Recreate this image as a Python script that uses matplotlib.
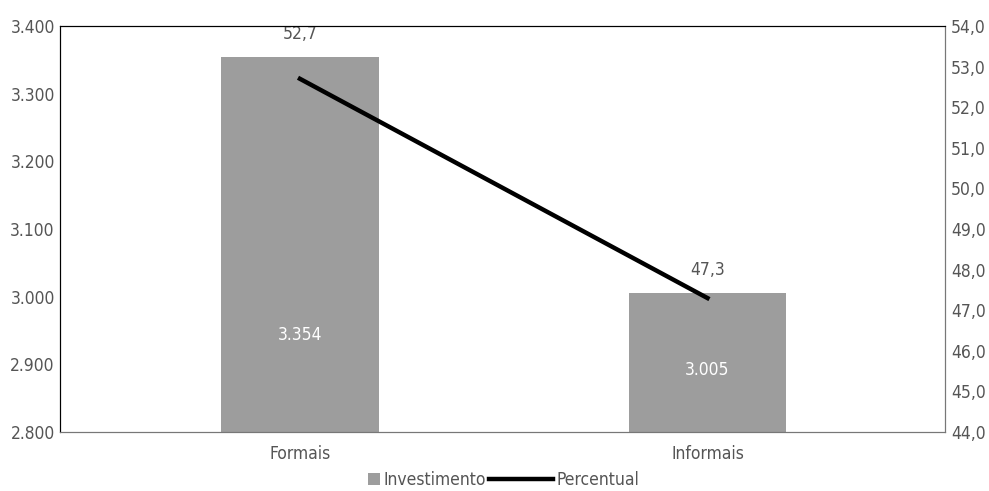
import matplotlib.pyplot as plt
from matplotlib.ticker import FuncFormatter
from matplotlib.patches import Rectangle
from matplotlib.legend_handler import HandlerPatch

categorias = ["Formais", "Informais"]
investimento = [3354, 3005]
percentual = [52.7, 47.3]

plt.rcParams["font.family"] = ["DejaVu Sans"]
plt.rcParams["font.stretch"] = "condensed"


def quadrado(legend, orig_handle, xdescent, ydescent, width, height, fontsize):
    # marcador quadrado encostado no texto
    sz = height * 0.95
    return Rectangle((-xdescent + width - sz, -ydescent + (height - sz) / 2), sz, sz)


fig, ax = plt.subplots(figsize=(9.89, 4.91), dpi=100)
fig.subplots_adjust(left=0.061, right=0.956, top=0.947, bottom=0.12)

x = list(range(len(categorias)))
bars = ax.bar(x, investimento, width=0.387, color="#9d9d9d", label="Investimento", zorder=2)
ax.set_ylim(2800, 3400)
ax.set_xlim(-0.588, 1.584)
ax.set_yticks(range(2800, 3401, 100))
ax.yaxis.set_major_formatter(FuncFormatter(lambda v, p: f"{int(v):,}".replace(",", ".")))
ax.set_xticks(x)
ax.set_xticklabels(categorias)

# valores dentro das barras
for xi, v, ypos in zip(x, investimento, [2943, 2892]):
    ax.text(xi, ypos, f"{v:,}".replace(",", "."), ha="center", va="center",
            color="white", fontsize=12.5)

ax2 = ax.twinx()
ln, = ax2.plot(x, percentual, color="black", linewidth=3.2, label="Percentual", zorder=3)
ax2.set_ylim(44, 54)
ax2.set_yticks(range(44, 55))
ax2.yaxis.set_major_formatter(FuncFormatter(lambda v, p: f"{v:.1f}".replace(".", ",")))

# percentuais acima das barras
for xi, v, p in zip(x, investimento, percentual):
    ax.annotate(f"{p:.1f}".replace(".", ","), (xi, v), xytext=(0, 10),
                textcoords="offset points", ha="center", va="bottom",
                color="#555555", fontsize=12.5)

for a in (ax, ax2):
    a.tick_params(length=0, labelsize=12.5, labelcolor="#555555", pad=4)
    a.spines["left"].set_color("black")
    a.spines["top"].set_color("black")
    a.spines["right"].set_color("#777777")
    a.spines["bottom"].set_color("#777777")
ax.tick_params(axis="x", pad=9)

barra = bars.patches[0]
fig.legend([barra, ln], ["Investimento", "Percentual"], loc="center",
           bbox_to_anchor=(0.483, 0.022), ncol=2, frameon=False, fontsize=12.5,
           handlelength=3.7, handletextpad=0.2, columnspacing=0.2,
           labelcolor="#555555",
           handler_map={barra: HandlerPatch(patch_func=quadrado)})

fig.savefig("out.png", dpi=100)
